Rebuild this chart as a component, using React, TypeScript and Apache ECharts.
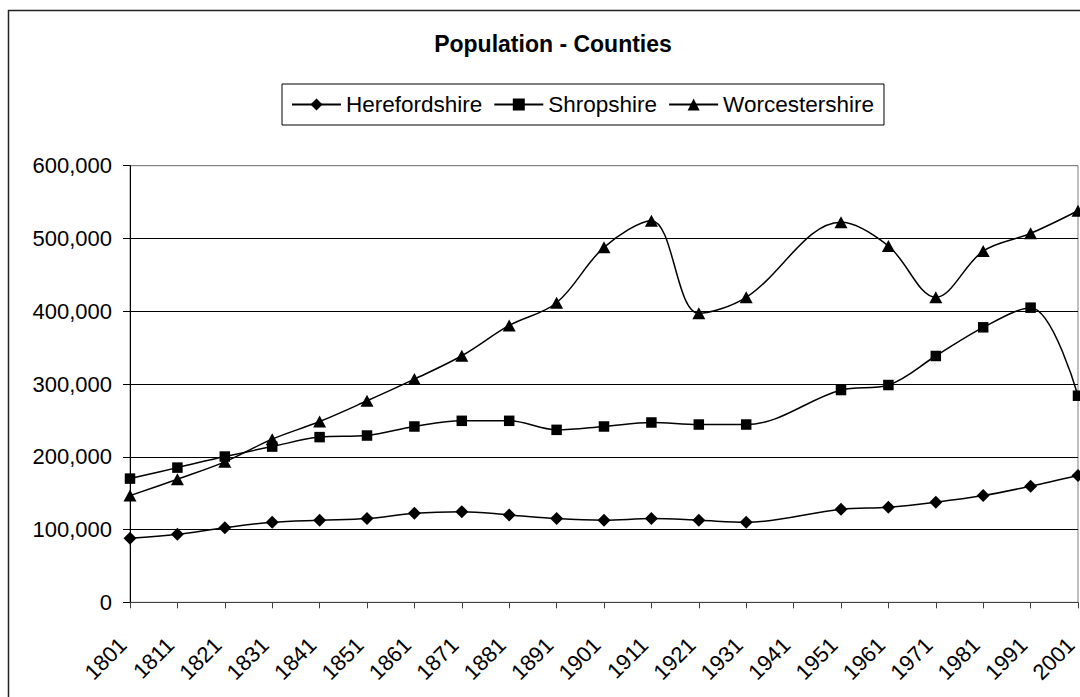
import React, { useEffect, useRef } from "react";
import * as echarts from "echarts";

// Census years (no census was taken in 1941)
const years = [
  "1801", "1811", "1821", "1831", "1841", "1851", "1861", "1871", "1881", "1891",
  "1901", "1911", "1921", "1931", "1941", "1951", "1961", "1971", "1981", "1991", "2001",
];

const herefordshire = [
  88000, 93500, 102600, 110000, 112800, 115000, 122400, 124600, 120100, 115000,
  112800, 115000, 112800, 110000, null, 127900, 130700, 137600, 146700, 159500, 174200,
];

const shropshire = [
  170000, 185100, 200300, 214000, 227000, 229200, 241600, 249400, 249400, 237000,
  241600, 247100, 244300, 244300, null, 291700, 298600, 338500, 377900, 404900, 283900,
];

const worcestershire = [
  146600, 169200, 193000, 224200, 248400, 276900, 306700, 338800, 380500, 411700,
  487800, 524400, 397100, 419100, null, 522200, 489600, 419100, 482700, 507000, 538100,
];

const titleText = "Population - Counties";
const yMin = 0;
const yMax = 600000;
const yStep = 100000;

const FONT = '"Liberation Sans", Arial, Helvetica, sans-serif';

const formatThousands = (v: number) =>
  String(Math.round(v)).replace(/\B(?=(\d{3})+(?!\d))/g, ",");

const lineSeries = (name: string, data: (number | null)[], symbol: string, size: any) => ({
  name,
  type: "line",
  data,
  smooth: 0.35,
  connectNulls: true,
  symbol,
  symbolSize: size,
  showSymbol: true,
  lineStyle: { color: "#000", width: 1.5 },
  itemStyle: { color: "#000", borderWidth: 0 },
  emphasis: { disabled: true },
  clip: false,
});

export default function App() {
  const ref = useRef<HTMLDivElement>(null);

  useEffect(() => {
    if (!ref.current) return;
    const chart = echarts.init(ref.current, null, { renderer: "svg" });
    chart.setOption({
      animation: false,
      backgroundColor: "#fff",
      textStyle: { fontFamily: FONT, color: "#000" },
      graphic: [
        {
          type: "rect",
          shape: { x: 8.5, y: 10.5, width: 1200, height: 800 },
          style: { fill: "none", stroke: "#222", lineWidth: 1.5 },
          silent: true,
        },
        {
          type: "text",
          x: 553,
          y: 44,
          style: {
            text: titleText,
            fontFamily: FONT,
            fontSize: 23,
            fontWeight: "bold",
            fill: "#000",
            align: "center",
            verticalAlign: "middle",
          },
        },
      ],
      legend: {
        left: 282,
        top: 84,
        orient: "horizontal",
        padding: [9, 10, 9, 9],
        itemGap: 11,
        itemWidth: 49,
        itemHeight: 15,
        borderColor: "#000",
        borderWidth: 1,
        backgroundColor: "#fff",
        textStyle: { fontFamily: FONT, fontSize: 22.5, color: "#000" },
        data: ["Herefordshire", "Shropshire", "Worcestershire"],
      },
      grid: {
        left: 130,
        right: 2,
        top: 165.7,
        bottom: 94.7,
        containLabel: false,
        outerBoundsMode: "none",
        show: true,
        borderColor: "#808080",
        borderWidth: 1,
        backgroundColor: "#fff",
      },
      xAxis: {
        type: "category",
        data: years,
        boundaryGap: false,
        axisLine: { lineStyle: { color: "#404040", width: 1 } },
        axisTick: { show: true, length: 6, interval: 0, lineStyle: { color: "#404040" } },
        axisLabel: {
          interval: 0,
          rotate: 45,
          margin: 32,
          // pull each year back along its slant so it ends just short of its tick
          padding: [0, 10, 0, 0],
          fontFamily: FONT,
          fontSize: 22,
          color: "#000",
        },
        splitLine: { show: false },
      },
      yAxis: {
        type: "value",
        min: yMin,
        max: yMax,
        interval: yStep,
        axisLine: { show: true, lineStyle: { color: "#000", width: 1 } },
        axisTick: { show: true, length: 7, lineStyle: { color: "#000" } },
        axisLabel: {
          margin: 18,
          fontFamily: FONT,
          fontSize: 22,
          color: "#000",
          formatter: (v: number) => formatThousands(v),
        },
        splitLine: {
          show: true,
          lineStyle: {
            color: ["#808080", "#000", "#000", "#000", "#000", "#000", "#808080"],
            width: 1,
          },
        },
      },
      series: [
        lineSeries("Herefordshire", herefordshire, "diamond", 13),
        lineSeries("Shropshire", shropshire, "rect", 10.5),
        lineSeries("Worcestershire", worcestershire, "triangle", [13, 12]),
      ],
    });
    return () => chart.dispose();
  }, []);

  return (
    <div
      ref={ref}
      style={{ position: "absolute", left: 0, top: 0, width: 1080, height: 697 }}
    />
  );
}
